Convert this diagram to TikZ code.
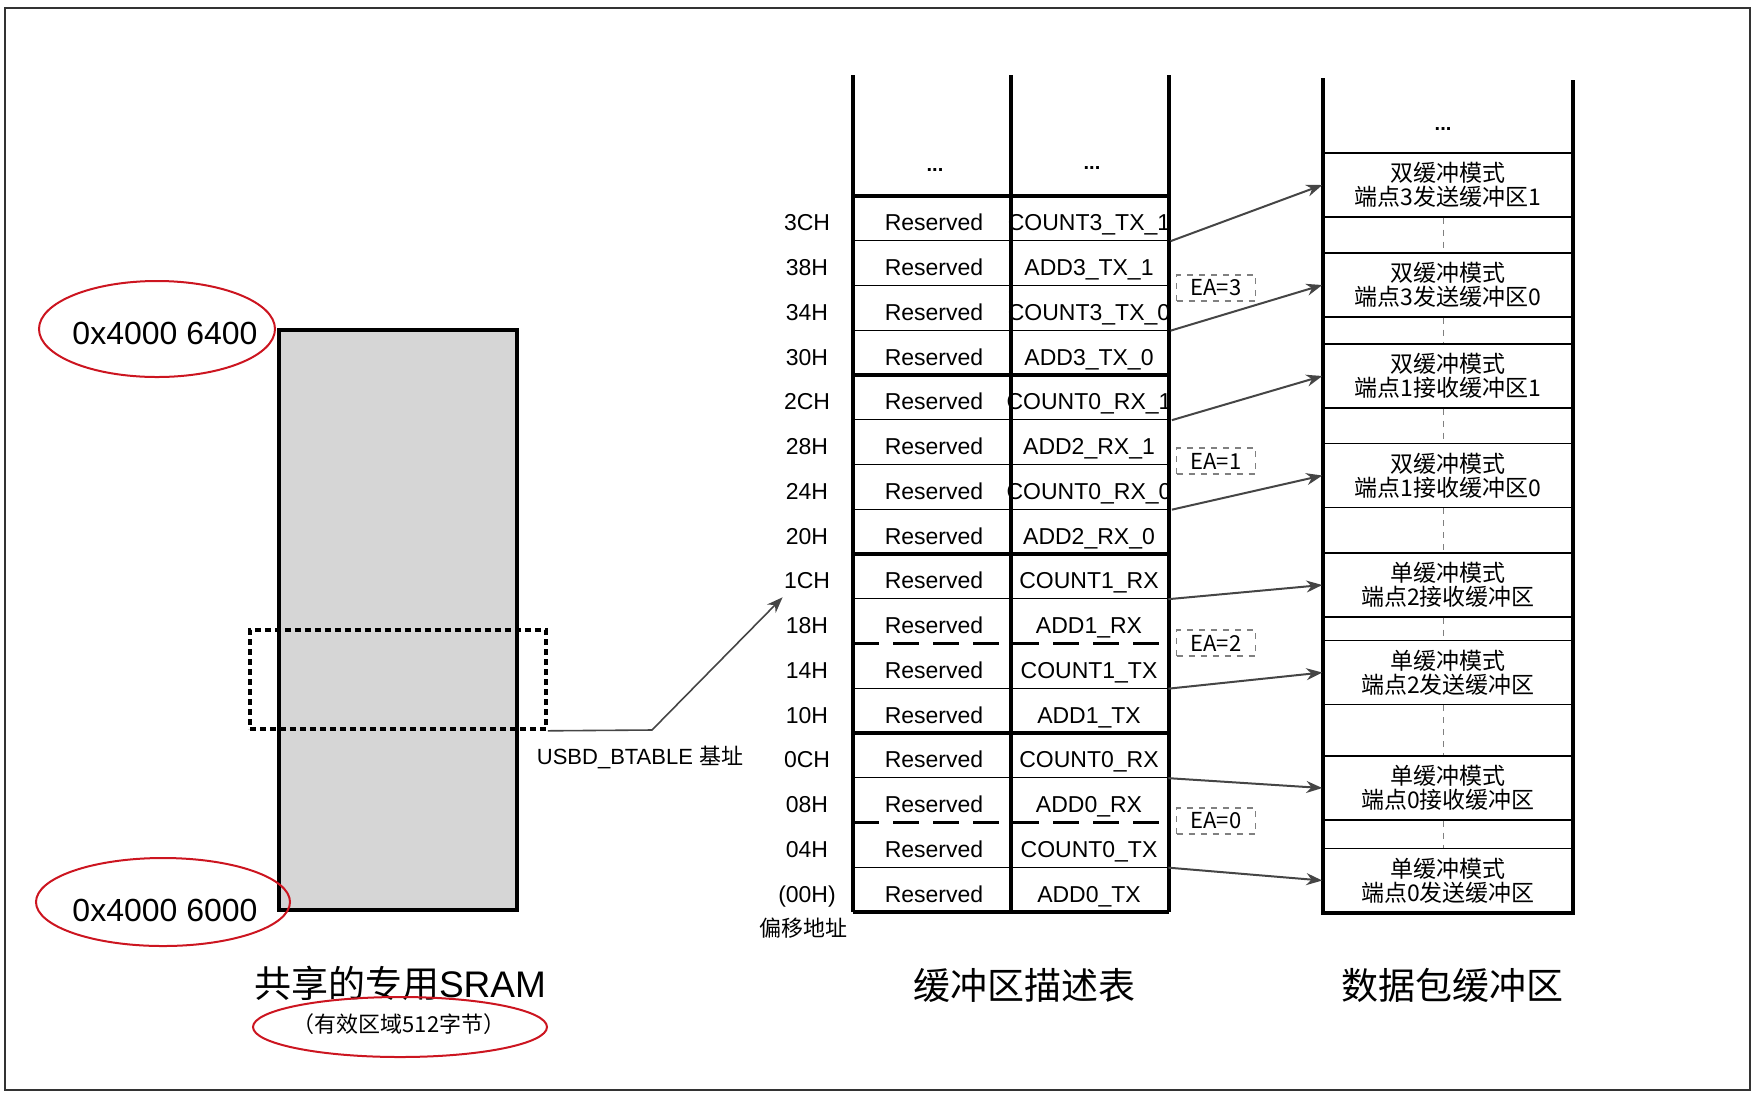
\documentclass[tikz,border=0pt]{standalone}
\usepackage{fontspec}
\setmainfont{Liberation Sans}
\newfontfamily\cjk{Noto Sans CJK SC}
\usetikzlibrary{arrows.meta,positioning,shapes.geometric,calc}
\definecolor{framegray}{HTML}{333333}
\definecolor{arrowgray}{HTML}{454545}
\definecolor{sramgray}{HTML}{D6D6D6}
\definecolor{markred}{HTML}{CC1520}

\begin{document}
\begin{tikzpicture}[x=0.5pt,y=-0.5pt,
    every node/.style={inner sep=0pt},
    cell/.style={minimum width=79pt,minimum height=22.375pt,text height=8.5pt,text depth=2pt,font=\fontsize{11.5}{13}\selectfont},
    offlabel/.style={text height=8.5pt,text depth=2pt,font=\fontsize{11.5}{13}\selectfont},
    bufbox/.style={draw,line width=0.7pt,minimum width=125pt,minimum height=32pt,align=center,font=\cjk\fontsize{11.5}{12.2}\selectfont},
    eabox/.style={draw=gray,dashed,line width=0.6pt,minimum width=39.5pt,minimum height=13pt,font=\cjk\fontsize{11}{12}\selectfont},
    addr/.style={font=\fontsize{16}{18}\selectfont},
    redmark/.style={draw=markred,line width=1pt},
    title/.style={font=\fontsize{18.5}{20}\selectfont},
    link/.style={-{Stealth[length=8pt,width=6pt]},draw=arrowgray,line width=1pt},
    tblthick/.style={line width=1.6pt},
    tblthin/.style={line width=0.7pt},
    gapline/.style={draw=gray,dashed,line width=0.5pt}]
  \useasboundingbox (0,0) rectangle (1759,1110);
  \draw[framegray,line width=1pt] (5,8) rectangle (1750,1090);

  % shared SRAM
  \node[draw,line width=1.8pt,fill=sramgray,minimum width=119pt,minimum height=290pt] (sram) at (398,620) {};
  \node[draw,line width=1.8pt,dash pattern=on 3pt off 2pt,minimum width=148pt,minimum height=49.5pt] (sel) at (398,679.5) {};
  \node[addr] (addrhi) at (165,333) {0x4000 6400};
  \node[addr] (addrlo) at (165,910) {0x4000 6000};
  \draw[redmark] ($(addrhi)+(-8,-4)$) ellipse [x radius=118,y radius=48];
  \draw[redmark] ($(addrlo)+(-2,-8)$) ellipse [x radius=127,y radius=44];
  \node[title] (sramtitle) at (400,983) {{\cjk 共享的专用}SRAM};
  \node[font=\cjk\fontsize{11}{12}\selectfont] (sramnote) at (399,1024) {（有效区域512字节）};
  \draw[redmark] ($(sramnote)+(1,3)$) ellipse [x radius=147,y radius=30];
  \node[font=\fontsize{11}{12}\selectfont] (base) at (640,757) {USBD\_BTABLE {\cjk 基址}};

  % buffer descriptor table
  \foreach \off/\val [count=\i from 0] in {3CH/COUNT3\_TX\_1,38H/ADD3\_TX\_1,34H/COUNT3\_TX\_0,30H/ADD3\_TX\_0,
      2CH/COUNT0\_RX\_1,28H/ADD2\_RX\_1,24H/COUNT0\_RX\_0,20H/ADD2\_RX\_0,
      1CH/COUNT1\_RX,18H/ADD1\_RX,14H/COUNT1\_TX,10H/ADD1\_TX,
      0CH/COUNT0\_RX,08H/ADD0\_RX,04H/COUNT0\_TX,{(00H)}/ADD0\_TX} {
    \node[offlabel] (off-\i) at (807,{202+44.75*(\i+0.5)}) {\off};
    \node[cell] (res-\i) at (934,{202+44.75*(\i+0.5)}) {Reserved};
    \node[cell] (val-\i) at (1089,{202+44.75*(\i+0.5)}) {\val};
  }
  \node[font=\cjk\fontsize{11}{12}\selectfont] (offtitle) at (803,928) {偏移地址};
  \node[font=\bfseries] (dotsres) at (935,170) {...};
  \node[font=\bfseries] (dotsval) at (1092,168) {...};
  \foreach \k in {1,2,3,5,6,7,9,11,13,15}
    \draw[tblthin] (853,{196+44.75*\k}) -- (1169,{196+44.75*\k});
  \foreach \k in {0,4,8,12,16}
    \draw[tblthick] (853,{196+44.75*\k}) -- (1169,{196+44.75*\k});
  \foreach \k in {10,14}
    \draw[tblthick,dash pattern=on 13pt off 7pt] (853,{196+44.75*\k}) -- (1169,{196+44.75*\k});
  \foreach \x in {853,1011,1169}
    \draw[tblthick] (\x,75) -- (\x,912);
  \node[title] (tbltitle) at (1024,985) {\cjk 缓冲区描述表};

  % packet buffers
  \node[font=\bfseries] (dotsbuf) at (1443,129) {...};
  \foreach \y/\txt [count=\j] in {185/{双缓冲模式\\端点3发送缓冲区1},285/{双缓冲模式\\端点3发送缓冲区0},
      376/{双缓冲模式\\端点1接收缓冲区1},475.5/{双缓冲模式\\端点1接收缓冲区0},
      585/{单缓冲模式\\端点2接收缓冲区},672.5/{单缓冲模式\\端点2发送缓冲区},
      788/{单缓冲模式\\端点0接收缓冲区},880.5/{单缓冲模式\\端点0发送缓冲区}}
    \node[bufbox] (buf-\j) at (1448,\y) {\txt};
  \foreach \j/\k in {1/2,2/3,3/4,4/5,5/6,6/7,7/8}
    \draw[gapline] ([xshift=-2.5pt]buf-\j.south) -- ([xshift=-2.5pt]buf-\k.north);
  \draw[tblthick] (1323,78) -- (1323,913) -- (1573,913) -- (1573,80);
  \node[title] (buftitle) at (1452,985) {\cjk 数据包缓冲区};

  \node[eabox] (ea-3) at (1216,288) {EA=3};
  \node[eabox] (ea-1) at (1216,461) {EA=1};
  \node[eabox] (ea-2) at (1216,643) {EA=2};
  \node[eabox] (ea-0) at (1216,821) {EA=0};

  \foreach \i/\j in {0/1,2/2,4/3,6/4,8/5,10/6,12/7,14/8}
    \draw[link] ([yshift=3pt]val-\i.south east) -- (buf-\j.west);
  \coordinate (bend) at (652,730);
  \draw[link,line width=0.8pt] (sel.south east) -- (bend) -- ([shift={(-1,4)}]off-8.south west);
\end{tikzpicture}
\end{document}
